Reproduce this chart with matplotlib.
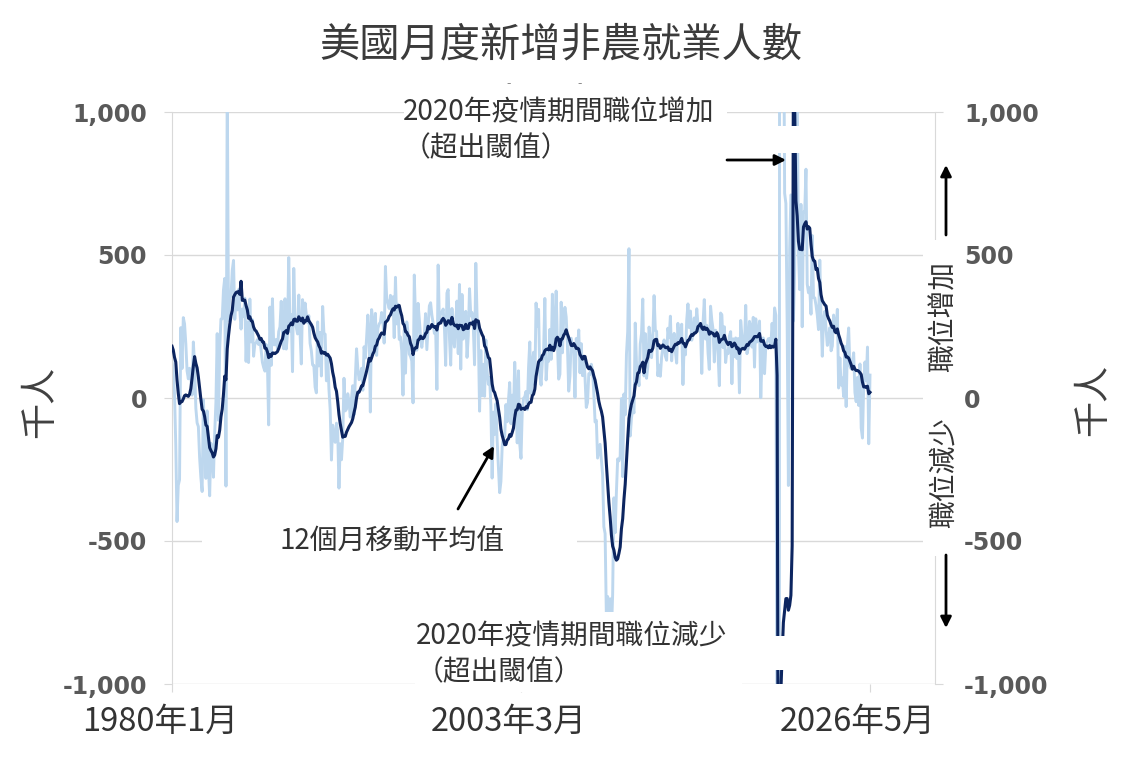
import numpy as np
import pandas as pd
import matplotlib
matplotlib.use('Agg')
import matplotlib.pyplot as plt
from matplotlib.patches import Rectangle, FancyArrowPatch
from matplotlib.transforms import ScaledTranslation

# monthly change in nonfarm payrolls (thousands), Feb-Dec 1979 only feeds the moving average
warmup_1979 = [253, 322, 32, 325, 251, 147, 177, 85, 170, 124, 158]

jobs_1980s = [
    129, 93, 14, -163, -432, -305, -286, 246, 103, 281, 259, 190,
    95, 67, 104, 74, 10, 196, 112, -36, -87, -100, -209, -278,
    -327, -6, -129, -281, -45, -243, -342, -158, -181, -277, -124, -14,
    225, -78, 173, 276, 277, 378, 418, -308, 1114, 271, 352, 356,
    446, 481, 275, 363, 308, 379, 312, 241, 311, 286, 349, 128,
    266, 124, 346, 196, 274, 146, 189, 193, 204, 187, 209, 168,
    125, 107, 94, 187, 126, -94, 318, 114, 347, 186, 186, 205,
    172, 232, 249, 338, 227, 172, 347, 171, 226, 491, 233, 292,
    92, 453, 272, 248, 224, 360, 226, 119, 344, 274, 332, 291,
    263, 288, 191, 165, 116, 114, 38, 18, 266, 112, 229, 77,
]
jobs_1990s = [
    320, 227, 223, 60, 152, 32, -41, -217, -95, -133, -155, -88,
    -116, -315, -160, -216, -141, 69, -45, -39, 15, -13, -67, 0,
    43, -59, 67, 172, 104, 64, 75, 104, 27, 179, 140, 209,
    290, 232, -49, 309, 266, 171, 296, 149, 243, 259, 265, 299,
    271, 192, 460, 347, 331, 313, 359, 292, 354, 211, 422, 259,
    328, 205, 213, 165, 10, 237, 87, 266, 228, 154, 145, 130,
    -17, 430, 272, 167, 331, 275, 213, 177, 215, 222, 295, 169,
    243, 322, 333, 290, 262, 226, 245, 30, 465, 260, 300, 298,
    311, 248, 114, 367, 379, 212, 115, 313, 218, 178, 268, 339,
    155, 397, 101, 362, 206, 251, 303, 142, 217, 382, 287, 299,
]
jobs_2000s = [
    249, 116, 471, 286, 228, -46, 166, 8, 118, 6, 203, 94,
    48, 72, -28, -280, -49, -127, -20, -150, -241, -331, -292, -171,
    -134, -136, -23, -83, -9, 54, -90, 10, -57, 125, 8, -157,
    95, -161, -211, -47, -1, 4, 23, -41, 106, 196, 14, 118,
    160, 45, 332, 250, 310, 79, 45, 126, 161, 348, 63, 133,
    128, 240, 135, 363, 168, 243, 374, 194, 66, 83, 335, 158,
    277, 317, 283, 182, 24, 77, 209, 184, 157, 2, 208, 171,
    238, 88, 190, 78, 145, 71, -33, -16, 85, 82, 118, 97,
    17, -84, -78, -210, -186, -162, -213, -267, -450, -474, -766, -694,
    -793, -702, -823, -687, -349, -471, -329, -213, -220, -204, -2, -275,
]
jobs_2010s = [
    14, -59, 153, 232, 522, -133, -70, -34, -52, 262, 119, 87,
    43, 189, 225, 346, 77, 225, 69, 110, 248, 209, 141, 209,
    358, 237, 233, 78, 115, 76, 143, 177, 203, 146, 132, 244,
    211, 286, 130, 197, 226, 162, 122, 261, 190, 212, 258, 47,
    190, 151, 272, 329, 246, 304, 202, 230, 280, 227, 312, 255,
    234, 238, 86, 262, 344, 206, 254, 157, 100, 321, 272, 239,
    126, 237, 225, 153, 43, 297, 291, 176, 249, 124, 164, 155,
    216, 232, 50, 207, 145, 210, 138, 208, 18, 271, 216, 175,
    176, 324, 155, 175, 268, 248, 178, 282, 108, 277, 196, 227,
    269, 1, 147, 210, 85, 182, 194, 207, 208, 185, 261, 184,
]
jobs_2020s = [
    315, 289, -1373, -20477, 2833, 4846, 1726, 1583, 716, 680, 264, -306,
    520, 710, 704, 269, 447, 962, 1091, 517, 379, 677, 249, 650,
    650, 800, 398, 368, 386, 293, 568, 352, 350, 324, 290, 239,
    482, 287, 146, 278, 303, 240, 184, 210, 246, 165, 182, 290,
    256, 236, 310, 35, 140, 45, 70, 5, 180, -30, 185, 245,
    111, 102, 120, 158, 19, -13, 72, -26, 119, -105, -140, 48,
    126, 60, 178, -160, 80,
]

y_ticks = [-1000, -500, 0, 500, 1000]
y_tick_labels = ['-1,000', '-500', '0', '500', '1,000']
x_tick_labels = ['1980年1月', '2003年3月', '2026年5月']

plt.rcParams['font.family'] = ['Noto Sans CJK TC', 'DejaVu Sans']

monthly = np.array(jobs_1980s + jobs_1990s + jobs_2000s + jobs_2010s + jobs_2020s, dtype=float)
full = pd.Series(np.concatenate([warmup_1979, monthly]))
ma12 = full.rolling(12).mean().to_numpy()[len(warmup_1979):]
months = np.arange(len(monthly))

W, H = 1132, 762
fig = plt.figure(figsize=(W / 100, H / 100), dpi=100)
ax = fig.add_axes([172 / W, 1 - 684 / H, 763 / W, 572 / H])

ax.plot(months, monthly, color='#bdd7ee', lw=2.1, zorder=2)
ax.plot(months, ma12, color='#0c2560', lw=2.2, zorder=3)

last = len(monthly) - 1
ax.set_xlim(0, last * 763 / 698)
ax.set_ylim(-1000, 1000)
ax.set_yticks(y_ticks)
ax.set_yticklabels(y_tick_labels)
ax.set_xticks([0, last / 2, last])
ax.set_xticklabels(x_tick_labels)
ax.grid(axis='y', color='#d9d9d9', lw=1)
ax.set_axisbelow(True)
for side in ['top', 'bottom']:
    ax.spines[side].set_visible(False)
for side in ['left', 'right']:
    ax.spines[side].set_color('#d9d9d9')
ax.tick_params(axis='y', length=6, color='#d9d9d9', labelsize=17, labelcolor='#595959',
               right=True, labelright=True, pad=12)
ax.tick_params(axis='x', length=6, color='#d9d9d9', labelsize=23.5, labelcolor='#333333', pad=10)
for tick in ax.yaxis.get_major_ticks():
    for lab in (tick.label1, tick.label2):
        lab.set_fontweight('bold')
        lab.set_family('DejaVu Sans')
off = ScaledTranslation(-12 / 100, 0, fig.dpi_scale_trans)
for lab in ax.get_xticklabels():
    lab.set_transform(lab.get_transform() + off)
roff = ScaledTranslation(4 / 100, 0, fig.dpi_scale_trans)
for tick in ax.yaxis.get_major_ticks():
    tick.label2.set_transform(tick.label2.get_transform() + roff)


def fx(px):
    return px / W


def fy(py):
    return 1 - py / H


def white_box(x0, y0, x1, y1):
    fig.add_artist(Rectangle((fx(x0), fy(y1)), (x1 - x0) / W, (y1 - y0) / H,
                             transform=fig.transFigure, facecolor='white',
                             edgecolor='none', zorder=2))


def arrow(x0, y0, x1, y1):
    fig.add_artist(FancyArrowPatch((fx(x0), fy(y0)), (fx(x1), fy(y1)),
                                   transform=fig.transFigure, arrowstyle='-|>',
                                   mutation_scale=16, lw=2, color='black',
                                   shrinkA=0, shrinkB=0, zorder=4))


# white label boxes that cover grid and data
white_box(404, 96, 727, 166)
white_box(415, 612, 742, 692)
white_box(202, 522, 577, 560)
white_box(923, 240, 959, 556)
white_box(777, 126, 803, 153)
white_box(765, 636, 795, 670)

fig.text(fx(561), fy(45), '美國月度新增非農就業人數', fontsize=29, color='#3b3b3b',
         ha='center', va='center')
fig.text(fx(403), fy(130), '2020年疫情期間職位增加\n（超出閾值）', fontsize=20,
         color='#333333', ha='left', va='center', linespacing=1.25, zorder=3)
fig.text(fx(416), fy(654), '2020年疫情期間職位減少\n（超出閾值）', fontsize=20,
         color='#333333', ha='left', va='center', linespacing=1.25, zorder=3)
fig.text(fx(280), fy(541), '12個月移動平均值', fontsize=20, color='#333333',
         ha='left', va='center', zorder=3)
fig.text(fx(944), fy(316), '職位增加', fontsize=20, color='#333333', rotation=90,
         ha='center', va='center', zorder=3)
fig.text(fx(944), fy(473), '職位減少', fontsize=20, color='#333333', rotation=90,
         ha='center', va='center', zorder=3)
fig.text(fx(40), fy(402), '千人', fontsize=26, color='#404040', rotation=90,
         ha='center', va='center')
fig.text(fx(1093), fy(400), '千人', fontsize=26, color='#404040', rotation=90,
         ha='center', va='center')
fig.text(fx(509), fy(84), '-', fontsize=9, color='#888888', ha='center', va='center')
fig.text(fx(580), fy(84), '-', fontsize=9, color='#888888', ha='center', va='center')

arrow(458, 509, 494, 446)
arrow(727, 160, 786, 160)
arrow(946, 235, 946, 165)
arrow(946, 555, 946, 628)

fig.savefig('out.png', dpi=100)
